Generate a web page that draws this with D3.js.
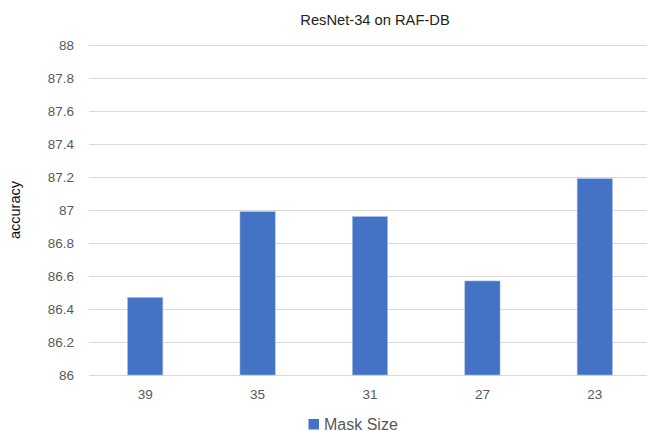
<!DOCTYPE html>
<html><head><meta charset="utf-8">
<script src="https://cdn.jsdelivr.net/npm/d3@7"></script>
<style>body{margin:0;background:#fff}svg{display:block}text{font-family:"Liberation Sans",Arial,sans-serif}</style>
</head><body>
<script>
const categories = ["39","35","31","27","23"];
const values = [86.47, 86.99, 86.96, 86.57, 87.19];
const yTicks = [86, 86.2, 86.4, 86.6, 86.8, 87, 87.2, 87.4, 87.6, 87.8, 88];
const title = "ResNet-34 on RAF-DB";
const yTitle = "accuracy";
const seriesName = "Mask Size";

const W = 647, H = 431;
const svg = d3.select("body").append("svg").attr("width", W).attr("height", H);

const x = d3.scaleBand().domain(categories).range([89, 651]).paddingInner(0.686).paddingOuter(0.343);
const y = d3.scaleLinear().domain([86, 88]).range([375, 45]);

// gridlines
svg.append("g").selectAll("line").data(yTicks).join("line")
  .attr("x1", 89).attr("x2", W).attr("y1", d => Math.round(y(d)) + 0.5).attr("y2", d => Math.round(y(d)) + 0.5)
  .attr("stroke", "#d9d9d9").attr("stroke-width", 1);

// y axis labels
const yAxis = d3.axisLeft(y).tickValues(yTicks).tickSize(0).tickPadding(0).tickFormat(d => d3.format("")(+d.toFixed(1)));
const gy = svg.append("g").attr("transform", "translate(74,0)").call(yAxis);
gy.select(".domain").remove();
gy.selectAll("text").attr("fill", "#595959").style("font-size", "13.5px").style("font-family", '"Liberation Sans",Arial,sans-serif');

// bars
svg.append("g").selectAll("rect").data(values).join("rect")
  .attr("x", (d, i) => x(categories[i]))
  .attr("width", x.bandwidth())
  .attr("y", d => y(d))
  .attr("height", d => y(86) - y(d))
  .attr("fill", "#4472c4")
  .attr("stroke", "#a9bfe6").attr("stroke-width", 0.6);

// x axis labels
const xAxis = d3.axisBottom(x).tickSize(0).tickPadding(0);
const gx = svg.append("g").attr("transform", "translate(0,389)").call(xAxis);
gx.select(".domain").remove();
gx.selectAll("text").attr("fill", "#595959").style("font-size", "13.5px").style("font-family", '"Liberation Sans",Arial,sans-serif');

// title
svg.append("text").attr("x", 375).attr("y", 25).attr("text-anchor", "middle")
  .attr("fill", "#222").style("font-size", "14.7px").text(title);

// y title
svg.append("text").attr("transform", "translate(19.5,210) rotate(-90)").attr("text-anchor", "middle")
  .attr("fill", "#111").style("font-size", "14.5px").text(yTitle);

// legend
const lg = svg.append("g");
lg.append("rect").attr("x", 308.5).attr("y", 419).attr("width", 10.5).attr("height", 10.5).attr("fill", "#4472c4");
lg.append("text").attr("x", 324).attr("y", 429.5).attr("fill", "#595959").style("font-size", "16px").text(seriesName);
</script>
</body></html>
